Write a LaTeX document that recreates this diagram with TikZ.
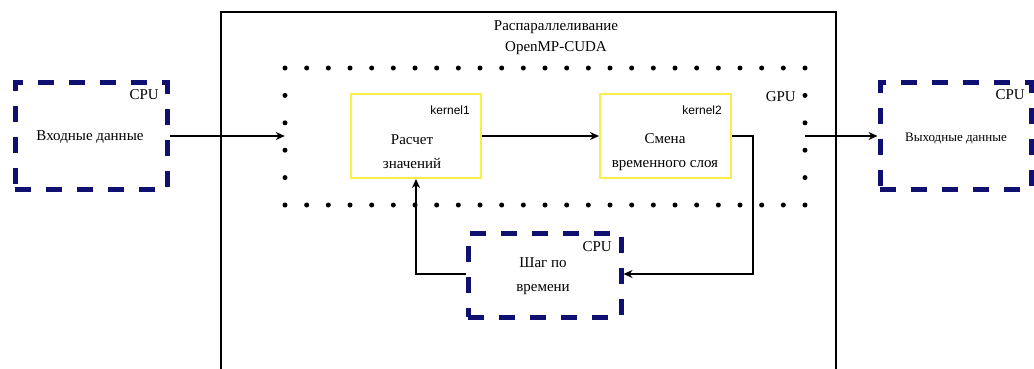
\documentclass[tikz,border=0pt]{standalone}
\usepackage{fontspec}
\setmainfont{Liberation Serif}
\newfontfamily\kfont{Liberation Sans}
\usetikzlibrary{arrows.meta}
\definecolor{cpunavy}{RGB}{16,16,112}
\definecolor{kyellow}{RGB}{250,238,70}
\begin{document}
\begin{tikzpicture}[x=1pt,y=-1pt,
  cpubox/.style={draw=cpunavy,line width=5pt,dash pattern=on 16pt off 15pt,minimum width=#1,inner sep=0pt},
  kbox/.style={draw=kyellow,line width=2pt,minimum width=130pt,minimum height=84pt,inner sep=0pt},
  txt/.style={font=\fontsize{15}{24}\selectfont,align=center,inner sep=0pt},
  small/.style={font=\fontsize{13}{16}\selectfont,inner sep=0pt},
  klab/.style={font=\kfont\fontsize{12}{14}\selectfont,inner sep=0pt,anchor=east},
  cpulab/.style={font=\fontsize{15}{17}\selectfont,inner sep=0pt,anchor=east},
  conn/.style={line width=1.5pt,-{Stealth[length=9pt,width=8pt]}}]
\useasboundingbox (0,0) rectangle (1034,368);
% big frame
\draw[line width=2.6pt] (221,380) -- (221,12) -- (836,12) -- (836,380);
\node[txt] (title) at (556,38) {Распараллеливание\\[-3pt]OpenMP-CUDA};
% GPU dotted box
\node[minimum width=520pt,minimum height=137pt,inner sep=0pt] (gpu) at (545,136) {};
\foreach \i in {0,...,24} {
  \fill (285+\i*21.667,68) circle (2.5);
  \fill (285+\i*21.667,205) circle (2.5);
}
\foreach \j in {1,...,4} {
  \fill (285,68+\j*27.4) circle (2.5);
  \fill (805,68+\j*27.4) circle (2.5);
}
\node[cpulab] (gpulab) at (796,97) {GPU};
% CPU boxes
\node[cpubox=152pt,minimum height=107pt] (in) at (91,136) {};
\node[txt] (intxt) at (90,137) {Входные данные};
\node[cpulab] (incpu) at (159,95) {CPU};
\node[cpubox=151pt,minimum height=107pt] (out) at (955.5,136) {};
\node[small] (outtxt) at (956,138) {Выходные данные};
\node[cpulab] (outcpu) at (1025,95) {CPU};
\node[cpubox=153pt,minimum height=84pt] (step) at (544.5,275) {};
\node[txt] (steptxt) at (543,276) {Шаг по\\времени};
\node[cpulab] (stepcpu) at (612,247) {CPU};
% kernels
\node[kbox] (k1) at (416,136) {};
\node[klab] (k1lab) at (470,110) {kernel1};
\node[txt] (k1txt) at (412,152) {Расчет\\значений};
\node[kbox,minimum width=131pt] (k2) at (665.5,136) {};
\node[klab] (k2lab) at (722,110) {kernel2};
\node[txt] (k2txt) at (665,152) {Смена\\временного слоя};
% connectors
\draw[conn] (in.east) -- (gpu.west);
\draw[conn] (gpu.east) -- (out.west);
\draw[conn] (k1.east) -- (k2.west);
\coordinate (r1) at (753,136);
\coordinate (r2) at (753,274);
\draw[conn] (k2.east) -- (r1) -- (r2) -- (step.east |- r2);
\coordinate (l1) at (416,274);
\draw[conn] (step.west |- l1) -- (l1) -- (k1.south);
\end{tikzpicture}
\end{document}
